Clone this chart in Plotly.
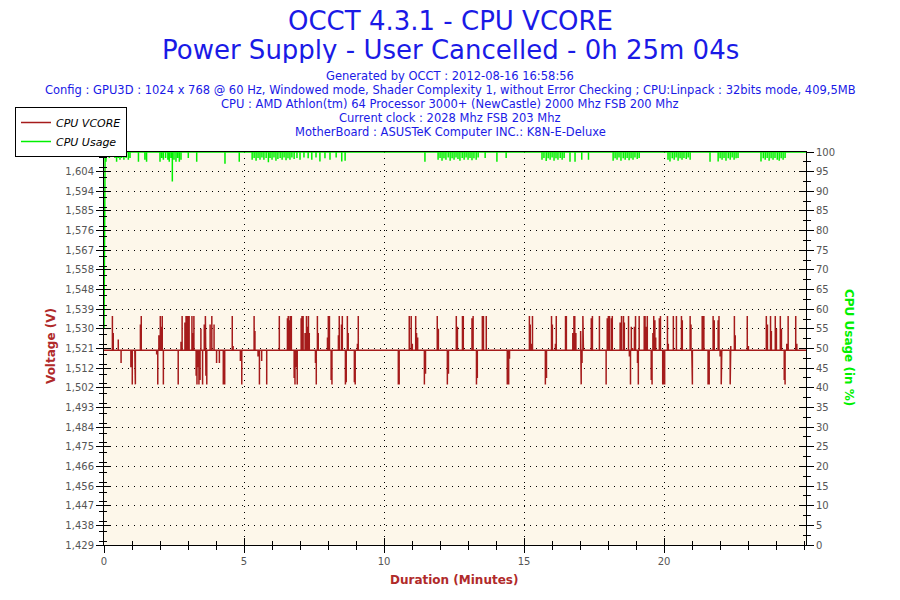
import plotly.graph_objects as go

# ---------------- data ----------------
duration_end_min = 25.067          # 0h 25m 04s
x_tick_vals = [0, 5, 10, 15, 20]
vcore_base = 1.520
vcore_spike_min = [
    0.30, 0.33, 0.51, 0.61, 0.96, 1.01, 1.10, 1.12, 1.30, 1.33,
    1.88, 1.92, 1.96, 2.01, 2.05, 2.08, 2.12, 2.65, 2.75, 2.79,
    2.89, 2.93, 2.96, 3.00, 3.04, 3.14, 3.18, 3.21, 3.29, 3.32,
    3.36, 3.39, 3.43, 3.46, 3.52, 3.58, 3.62, 3.64, 3.67, 3.79,
    3.85, 3.93, 4.02, 4.12, 4.26, 4.31, 4.58, 4.61, 4.87, 4.92,
    5.36, 5.39, 5.50, 5.55, 5.63, 5.81, 6.26, 6.55, 6.58, 6.62,
    6.65, 6.69, 6.79, 6.82, 6.87, 6.90, 7.04, 7.07, 7.11, 7.18,
    7.23, 7.26, 7.30, 7.33, 7.55, 7.58, 7.62, 7.65, 7.98, 8.01,
    8.05, 8.11, 8.14, 8.37, 8.40, 8.48, 8.51, 8.62, 8.65, 8.69,
    8.72, 8.94, 8.97, 9.05, 9.08, 10.51, 10.54, 10.90, 10.97, 11.01,
    11.13, 11.16, 11.20, 11.44, 11.48, 11.90, 11.94, 12.26, 12.30, 12.58,
    12.62, 12.80, 12.83, 13.14, 13.18, 13.30, 13.33, 13.51, 13.55, 13.65,
    14.40, 14.45, 14.48, 15.19, 15.22, 15.26, 15.30, 15.76, 15.80, 15.98,
    16.01, 16.12, 16.15, 16.48, 16.51, 16.74, 16.78, 16.81, 16.85, 17.02,
    17.04, 17.07, 17.10, 17.12, 17.40, 17.44, 17.69, 17.93, 17.97, 18.01,
    18.05, 18.12, 18.15, 18.43, 18.48, 18.55, 18.58, 18.73, 18.76, 18.80,
    18.83, 18.87, 18.94, 18.98, 19.05, 19.08, 19.11, 19.29, 19.32, 19.37,
    19.40, 19.54, 19.57, 19.60, 19.63, 19.67, 19.70, 19.83, 19.87, 19.95,
    19.99, 20.02, 20.12, 20.15, 20.33, 20.44, 20.62, 20.65, 20.93, 20.96,
    20.99, 21.01, 21.36, 21.39, 21.42, 21.57, 21.61, 21.75, 21.79, 21.93,
    21.96, 22.00, 22.04, 22.06, 22.36, 22.38, 22.51, 22.54, 22.97, 23.01,
    23.65, 23.69, 23.80, 23.83, 23.97, 24.01, 24.15, 24.19, 24.29, 24.32,
    24.38, 24.43, 24.70, 24.74,
]
vcore_spike_v = [
    1.536, 1.528, 1.525, 1.514, 1.512, 1.504, 1.518, 1.504, 1.532, 1.536,
    1.518, 1.504, 1.527, 1.536, 1.531, 1.536, 1.504, 1.504, 1.524, 1.536,
    1.533, 1.536, 1.536, 1.536, 1.536, 1.536, 1.528, 1.536, 1.508, 1.504,
    1.512, 1.504, 1.506, 1.530, 1.504, 1.532, 1.536, 1.508, 1.504, 1.532,
    1.536, 1.532, 1.514, 1.514, 1.504, 1.504, 1.536, 1.522, 1.515, 1.504,
    1.536, 1.529, 1.517, 1.504, 1.515, 1.504, 1.536, 1.535, 1.536, 1.534,
    1.536, 1.536, 1.507, 1.504, 1.512, 1.504, 1.535, 1.536, 1.536, 1.528,
    1.536, 1.531, 1.536, 1.528, 1.514, 1.504, 1.536, 1.528, 1.526, 1.536,
    1.536, 1.506, 1.504, 1.527, 1.536, 1.532, 1.536, 1.504, 1.505, 1.536,
    1.528, 1.505, 1.504, 1.523, 1.536, 1.504, 1.504, 1.536, 1.536, 1.523,
    1.536, 1.528, 1.526, 1.504, 1.509, 1.536, 1.530, 1.504, 1.509, 1.536,
    1.531, 1.536, 1.536, 1.535, 1.536, 1.504, 1.507, 1.536, 1.536, 1.536,
    1.504, 1.504, 1.516, 1.536, 1.532, 1.523, 1.536, 1.504, 1.507, 1.536,
    1.532, 1.523, 1.536, 1.536, 1.536, 1.528, 1.536, 1.536, 1.528, 1.529,
    1.504, 1.514, 1.536, 1.526, 1.535, 1.536, 1.536, 1.504, 1.535, 1.536,
    1.536, 1.535, 1.536, 1.533, 1.536, 1.536, 1.533, 1.536, 1.517, 1.504,
    1.531, 1.521, 1.531, 1.536, 1.514, 1.504, 1.536, 1.536, 1.536, 1.531,
    1.536, 1.506, 1.504, 1.528, 1.536, 1.534, 1.526, 1.535, 1.536, 1.504,
    1.504, 1.504, 1.536, 1.523, 1.536, 1.536, 1.536, 1.534, 1.536, 1.532,
    1.515, 1.504, 1.536, 1.536, 1.536, 1.504, 1.504, 1.536, 1.534, 1.534,
    1.536, 1.517, 1.504, 1.504, 1.504, 1.522, 1.536, 1.527, 1.536, 1.522,
    1.536, 1.532, 1.536, 1.529, 1.536, 1.530, 1.536, 1.530, 1.506, 1.504,
    1.523, 1.536, 1.536, 1.523,
]

cpu_start_min = [0.0, 0.04]
cpu_start_pct = [55.0, 100.0]
cpu_base = 100.0
cpu_dip_min = [
    0.07, 0.19, 0.39, 0.45, 0.51, 0.57, 0.63, 0.71, 0.79, 0.87,
    0.93, 1.23, 1.46, 1.52, 2.00, 2.06, 2.12, 2.20, 2.28, 2.33,
    2.39, 2.44, 2.50, 2.57, 2.63, 2.69, 2.75, 3.01, 3.31, 4.32,
    4.83, 5.29, 5.36, 5.43, 5.50, 5.57, 5.64, 5.71, 5.79, 5.87,
    5.93, 6.00, 6.07, 6.14, 6.21, 6.29, 6.36, 6.43, 6.50, 6.57,
    6.64, 6.71, 6.79, 6.89, 7.00, 7.14, 7.29, 7.42, 7.57, 7.71,
    7.89, 8.07, 8.29, 8.49, 8.61, 11.46, 11.93, 12.00, 12.07, 12.14,
    12.21, 12.29, 12.36, 12.43, 12.50, 12.57, 12.64, 12.71, 12.79, 12.86,
    12.93, 13.00, 13.07, 13.14, 13.21, 13.29, 13.36, 13.61, 14.03, 14.36,
    15.64, 15.71, 15.79, 15.86, 15.93, 16.00, 16.07, 16.14, 16.21, 16.29,
    16.36, 16.43, 16.64, 16.82, 17.06, 17.30, 18.18, 18.25, 18.32, 18.39,
    18.46, 18.54, 18.61, 18.68, 18.75, 18.82, 18.89, 18.96, 19.04, 19.11,
    20.14, 20.21, 20.29, 20.36, 20.43, 20.50, 20.57, 20.64, 20.71, 20.79,
    20.86, 20.93, 21.64, 21.93, 22.00, 22.07, 22.14, 22.21, 22.29, 22.36,
    22.43, 22.50, 22.57, 22.64, 23.46, 23.54, 23.61, 23.68, 23.75, 23.82,
    23.89, 23.96, 24.04, 24.11, 24.18, 24.25, 24.32,
]
cpu_dip_pct = [
    97.5, 98.5, 98.5, 97.5, 98.5, 98.0, 98.5, 98.0, 98.5, 98.0,
    98.5, 97.5, 98.0, 97.5, 97.5, 98.5, 98.0, 98.5, 98.0, 97.5,
    98.5, 92.5, 98.0, 97.5, 98.5, 97.5, 98.0, 98.5, 97.5, 97.0,
    97.5, 98.0, 98.5, 97.8, 98.5, 98.0, 98.6, 98.0, 98.5, 97.4,
    98.5, 98.0, 98.6, 97.8, 98.2, 98.5, 98.0, 98.6, 97.9, 98.4,
    98.0, 98.6, 98.2, 98.5, 98.0, 98.6, 98.4, 98.0, 98.6, 97.6,
    98.4, 98.0, 98.6, 97.6, 97.8, 97.5, 98.0, 98.5, 97.8, 98.4,
    98.0, 98.6, 97.8, 98.4, 98.0, 98.6, 98.2, 97.8, 98.5, 98.0,
    98.6, 98.0, 98.5, 97.9, 98.4, 98.0, 98.6, 98.5, 97.5, 98.5,
    98.0, 98.5, 97.7, 98.4, 98.0, 98.6, 97.8, 98.4, 98.0, 98.5,
    98.0, 98.5, 97.5, 97.5, 98.0, 98.0, 97.8, 98.4, 98.0, 98.6,
    97.8, 98.4, 98.0, 98.5, 97.9, 98.4, 98.0, 98.6, 98.2, 98.5,
    98.0, 97.6, 98.4, 98.0, 98.6, 97.8, 98.4, 98.0, 98.5, 98.2,
    98.6, 98.0, 97.5, 97.6, 98.4, 98.0, 98.5, 97.8, 98.4, 98.0,
    98.6, 98.0, 98.4, 98.5, 97.6, 98.4, 98.0, 98.5, 97.8, 98.4,
    98.0, 98.5, 98.0, 97.8, 98.4, 98.0, 98.5,
]

title_lines = ["OCCT 4.3.1 - CPU VCORE",
               "Power Supply - User Cancelled - 0h 25m 04s"]
info_lines = [
    "Generated by OCCT : 2012-08-16 16:58:56",
    "Config : GPU3D : 1024 x 768 @ 60 Hz, Windowed mode, Shader Complexity 1, without Error Checking ; CPU:Linpack : 32bits mode, 409,5MB",
    "CPU : AMD Athlon(tm) 64 Processor 3000+ (NewCastle) 2000 Mhz FSB 200 Mhz",
    "Current clock : 2028 Mhz FSB 203 Mhz",
    "MotherBoard : ASUSTeK Computer INC.: K8N-E-Deluxe",
]

# ---------------- build traces ----------------
vx, vy = [0.0], [vcore_base]
for t, v in zip(vcore_spike_min, vcore_spike_v):
    vx += [t, t, t]
    vy += [vcore_base, v, vcore_base]
vx.append(duration_end_min)
vy.append(vcore_base)

cx, cy = list(cpu_start_min), list(cpu_start_pct)
for t, p in zip(cpu_dip_min, cpu_dip_pct):
    cx += [t, t, t]
    cy += [cpu_base, p, cpu_base]
cx.append(duration_end_min)
cy.append(cpu_base)

RED = "#A51B1B"
GREEN = "#00F000"
BLUE = "#1A1AE6"
TICKC = "#555555"
FONT = "DejaVu Sans"

# The page puts the figure 8px in from the top-left corner; work in page pixels.
OFF = 8
W, H = 900, 600
PL, PR, PT, PB = 104, 806, 152, 545          # plot box in page pixels
ML, MT = PL - OFF, PT - OFF
MR, MB = W - (PR - OFF), H - (PB - OFF)
PW, PH = PR - PL, PB - PT


def px(xp):
    return (xp - PL) / PW


def py(yp):
    return (PB - yp) / PH


fig = go.Figure()
fig.add_trace(go.Scatter(x=vx, y=vy, mode="lines", name="CPU VCORE",
                         line=dict(color=RED, width=1.5), yaxis="y"))
fig.add_trace(go.Scatter(x=cx, y=cy, mode="lines", name="CPU Usage",
                         line=dict(color=GREEN, width=1.5), yaxis="y2"))
# empty helper traces so the inner-tick overlay axes get drawn
for xa, ya in [("x3", "y"), ("x", "y3"), ("x", "y4")]:
    fig.add_trace(go.Scatter(x=[None], y=[None], xaxis=xa, yaxis=ya,
                             showlegend=False, hoverinfo="skip"))

v_range = [1.4288, 1.6128]
v_step = 0.0092
x_common = dict(range=[0, duration_end_min], tickmode="array", tickvals=x_tick_vals)
x_minor = dict(tick0=0, dtick=1, tickcolor="black")
yv_common = dict(range=v_range, tick0=v_range[0], dtick=v_step)
yc_common = dict(range=[0, 100], tick0=0, dtick=5)

fig.update_layout(
    width=W, height=H,
    paper_bgcolor="white", plot_bgcolor="#FDF7EA",
    margin=dict(l=ML, r=MR, t=MT, b=MB, autoexpand=False),
    separators=",.",
    font=dict(family=FONT, size=10, color=TICKC),
    showlegend=True,
    legend=dict(xref="container", yref="container", x=(15 - OFF)/W, y=1-(107 - OFF)/H,
                xanchor="left", yanchor="top", bgcolor="white",
                bordercolor="black", borderwidth=1,
                font=dict(family=FONT, size=11, color="black", style="italic"),
                tracegroupgap=0, itemwidth=30),
    xaxis=dict(**x_common, showline=True, linecolor="black", linewidth=1, mirror=True,
               ticks="outside", ticklen=7, tickcolor="black", tickwidth=1,
               showgrid=True, gridcolor="black", griddash="1px,5px", gridwidth=1,
               zeroline=False, tickfont=dict(size=10, color=TICKC),
               minor=dict(**x_minor, ticks="outside", ticklen=4, showgrid=False)),
    xaxis3=dict(**x_common, overlaying="x", anchor="y", side="bottom",
                showticklabels=False, showgrid=False, zeroline=False, showline=False,
                ticks="inside", ticklen=7, tickcolor="black", tickwidth=1,
                minor=dict(**x_minor, ticks="inside", ticklen=4, showgrid=False)),
    yaxis=dict(**yv_common, side="left", showline=True, linecolor="black", linewidth=1,
               ticks="outside", ticklen=7, tickcolor="black", tickformat=".3f",
               showgrid=True, gridcolor="black", griddash="1px,5px", gridwidth=1,
               zeroline=False, tickfont=dict(size=10, color=TICKC),
               minor=dict(dtick=v_step/2, ticks="outside", ticklen=4, tickcolor="black", showgrid=False)),
    yaxis3=dict(**yv_common, overlaying="y", side="left", anchor="x",
                showticklabels=False, showgrid=False, zeroline=False, showline=False,
                ticks="inside", ticklen=7, tickcolor="black",
                minor=dict(dtick=v_step/2, ticks="inside", ticklen=3, tickcolor="black", showgrid=False)),
    yaxis2=dict(**yc_common, overlaying="y", side="right", anchor="x",
                showline=True, linecolor="black", linewidth=1,
                ticks="outside", ticklen=7, tickcolor="black",
                showgrid=False, zeroline=False, tickfont=dict(size=10, color=TICKC),
                minor=dict(dtick=2.5, ticks="outside", ticklen=4, tickcolor="black", showgrid=False)),
    yaxis4=dict(**yc_common, overlaying="y", side="right", anchor="x",
                showticklabels=False, showgrid=False, zeroline=False, showline=False,
                ticks="inside", ticklen=7, tickcolor="black",
                minor=dict(dtick=2.5, ticks="inside", ticklen=3, tickcolor="black", showgrid=False)),
)

ann = []
for line, yy in zip(title_lines, [21, 50]):
    ann.append(dict(text=line, x=px(450), y=py(yy), xref="paper", yref="paper",
                    showarrow=False, xanchor="center", yanchor="middle",
                    height=26, borderpad=0, valign="middle",
                    font=dict(family=FONT, size=26, color=BLUE)))
info_y = [76, 90, 104, 118, 132]
for line, yy in zip(info_lines, info_y):
    ann.append(dict(text=line, x=px(450), y=py(yy), xref="paper", yref="paper",
                    showarrow=False, xanchor="center", yanchor="middle",
                    font=dict(family=FONT, size=11.5, color=BLUE)))
ann.append(dict(text="<b>Voltage (V)</b>", x=px(51), y=py(346), xref="paper", yref="paper",
                showarrow=False, textangle=-90, xanchor="center", yanchor="middle",
                font=dict(family=FONT, size=12, color="#B02A2A")))
ann.append(dict(text="<b>CPU Usage (in %)</b>", x=px(849), y=py(347), xref="paper", yref="paper",
                showarrow=False, textangle=90, xanchor="center", yanchor="middle",
                font=dict(family=FONT, size=12, color=GREEN)))
ann.append(dict(text="<b>Duration (Minutes)</b>", x=px(454), y=py(580), xref="paper", yref="paper",
                showarrow=False, xanchor="center", yanchor="middle",
                font=dict(family=FONT, size=12, color="#B02A2A")))
fig.update_layout(annotations=ann)

fig.write_html("out.html")
